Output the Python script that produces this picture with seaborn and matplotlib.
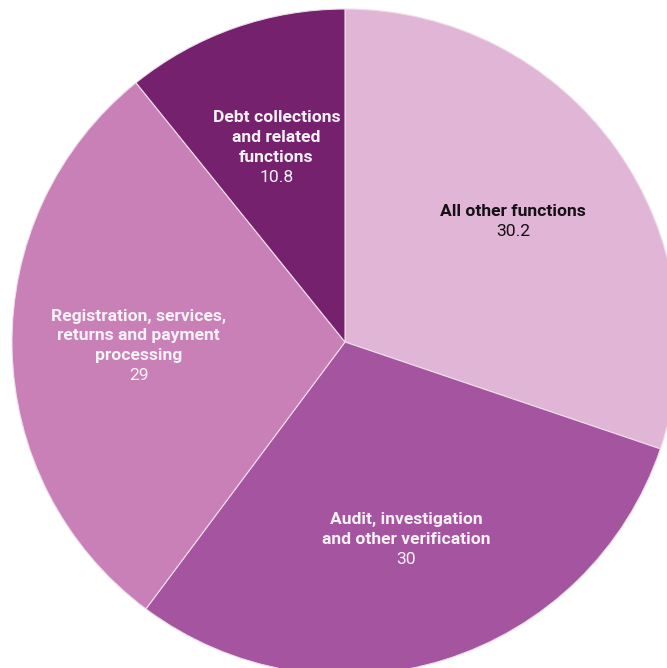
import matplotlib.pyplot as plt
import numpy as np
import seaborn as sns

# Share of staff by function (per cent), clockwise from 12 o'clock
functions = [
    "All other functions",
    "Audit, investigation\nand other verification",
    "Registration, services,\nreturns and payment\nprocessing",
    "Debt collections\nand related\nfunctions",
]
shares = [30.2, 30, 29, 10.8]

colours = ["#E0B5D5", "#A554A0", "#C980B7", "#75216E"]
text_colours = ["#151015", "#F8F2F7", "#F8F2F7", "#F8F2F7"]

sns.set_theme(style="white")
plt.rcParams["font.family"] = ["Roboto", "DejaVu Sans"]

fig = plt.figure(figsize=(6.67, 6.68), dpi=100)
ax = fig.add_axes([0, 0, 1, 1])

wedges, _ = ax.pie(
    shares,
    colors=colours,
    startangle=90,
    counterclock=False,
    radius=1,
    wedgeprops={"edgecolor": "#EEDDEB", "linewidth": 0.8},
)

passo = 14.4  # distância entre linhas, em pontos (20 px)

# Etiquetas dentro de cada fatia, no ângulo médio
for w, nome, valor, cor in zip(wedges, functions, shares, text_colours):
    ang = np.deg2rad((w.theta1 + w.theta2) / 2)
    x, y = 0.62 * np.cos(ang), 0.62 * np.sin(ang)
    n = nome.count("\n") + 1
    ax.annotate(nome, (x, y), xytext=(0, passo / 2), textcoords="offset points",
                ha="center", va="center", fontsize=12.6, fontweight="bold",
                color=cor, linespacing=1.4)
    ax.annotate(f"{valor:g}", (x, y), xytext=(0, -n * passo / 2),
                textcoords="offset points", ha="center", va="center",
                fontsize=12.6, color=cor)

ax.set_aspect("auto")
ax.set_xlim(-345 / 333, 322 / 333)
ax.set_ylim(-326 / 333, 342 / 333)
ax.set_axis_off()

fig.savefig("out.png", dpi=100)
